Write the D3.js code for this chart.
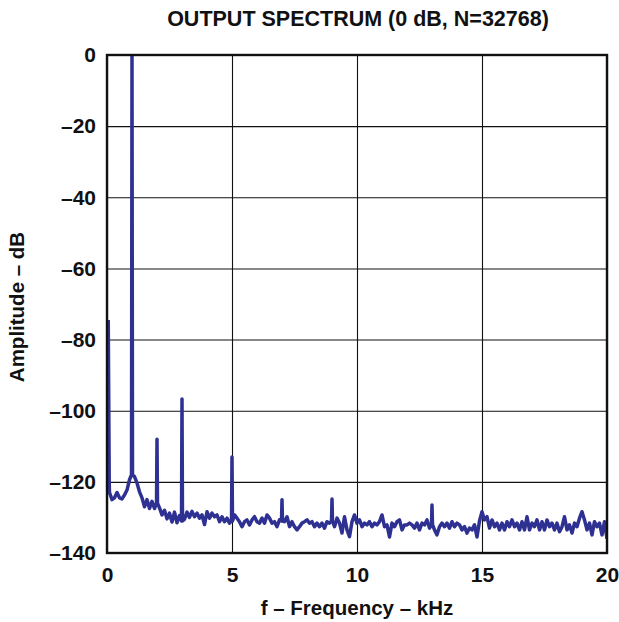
<html>
<head>
<meta charset="utf-8">
<script src="https://d3js.org/d3.v7.min.js"></script>
<style>
    body { margin: 0; background: #fff; }
    svg text { font-family: "Liberation Sans", Arial, Helvetica, sans-serif; font-weight: bold; fill: #111; }
</style>
</head>
<body>
<svg id="chart"></svg>
<script>
    // frequency axis / amplitude axis ticks
    const xTicks = [0, 5, 10, 15, 20];
    const yTicks = [0, -20, -40, -60, -80, -100, -120, -140];

    // noise floor, one value per 0.1 kHz bin starting at 0.1 kHz
    const binStep = 0.1;
    const noiseDb = [
        -123, -125, -124.5, -123, -124.5, -124.8, -123.7, -122.3, -119.4, -118,
        -118.5, -120.3, -122.8, -124.5, -127, -125, -127.5, -125.5, -127.5, -126,
        -127.3, -129.3, -128, -130.4, -128.8, -131.3, -128.5, -131.5, -129.5, -131,
        -130.5, -128.5, -130, -128.3, -129.8, -128.8, -130.2, -129.3, -132, -128.4,
        -130.2, -128.8, -129.8, -129.3, -131.2, -129.8, -131.2, -130.2, -131.6, -131,
        -129.3, -130.2, -131.2, -132.6, -131.2, -130.7, -132.1, -130.7, -129.8, -131.2,
        -131.6, -130.2, -131.6, -129.3, -130.2, -131.6, -131.2, -132.6, -130.7, -131,
        -131.2, -129.8, -132.6, -131.2, -132.6, -133.5, -132.6, -131.6, -131.2, -130.7,
        -131.6, -131.2, -132.6, -131.6, -132.6, -131.6, -133, -131.2, -131.6, -131,
        -132.6, -130.2, -131.6, -134.4, -129.8, -133.5, -135.4, -131.2, -129.3, -131.6,
        -130.7, -132.6, -131.6, -132.1, -131.2, -132.6, -131.6, -132.1, -131.2, -129.3,
        -132.6, -132.1, -135.5, -131.6, -132.6, -131.2, -130.7, -133.5, -132.1, -132.1,
        -131.6, -132.1, -133, -131.6, -133.5, -131.6, -132.1, -130.7, -133, -132,
        -133.5, -134.9, -132.6, -131.6, -132.6, -131.6, -133, -131.2, -132.6, -131.6,
        -132.1, -133.5, -132.6, -134.4, -133, -133.5, -132.1, -135.5, -131, -128.4,
        -130.7, -129.8, -133, -130.7, -132.6, -131.6, -133.5, -131.6, -133.5, -131.2,
        -132.6, -130.7, -132.6, -131.6, -133.5, -131.2, -133.5, -129.8, -133.5, -131.6,
        -132.6, -130.7, -133.5, -131.2, -133.5, -130.7, -132.6, -131.6, -133.5, -131.6,
        -134, -132.6, -129.8, -133.5, -132.1, -134.4, -131.6, -132.6, -130.2, -128.4,
        -130.7, -133.5, -131.6, -134.9, -131.2, -132.6, -131.6, -134.9, -131.2, -136
    ];

    // fundamental, harmonics and spurs (kHz, dB)
    const toneFreq = [1, 2, 3, 5, 7, 9, 13];
    const tonePeak = [0, -108, -96.7, -113, -125, -124.8, -126.5];

    // DC leakage at the very start
    const dcFreq = [0.05, 0.09];
    const dcDb = [-74.5, -121];

    const width = 619, height = 622;
    const margin = {top: 55, right: 12, bottom: 69, left: 107};
    const w = width - margin.left - margin.right;
    const h = height - margin.top - margin.bottom;

    const svg = d3.select('#chart').attr('width', width).attr('height', height);
    const g = svg.append('g').attr('transform', `translate(${margin.left},${margin.top})`);

    const x = d3.scaleLinear().domain([0, 20]).range([0, w]);
    const y = d3.scaleLinear().domain([-140, 0]).range([h, 0]);

    const dash = d => d < 0 ? '\u2013' + Math.abs(d) : String(d);

    // grid
    g.append('g')
        .attr('transform', `translate(0,${h})`)
        .call(d3.axisBottom(x).tickValues(xTicks).tickSize(-h).tickFormat(''))
        .call(a => a.select('.domain').remove())
        .selectAll('line').attr('stroke', '#111').attr('stroke-width', 1.1);
    g.append('g')
        .call(d3.axisLeft(y).tickValues(yTicks).tickSize(-w).tickFormat(''))
        .call(a => a.select('.domain').remove())
        .selectAll('line').attr('stroke', '#111').attr('stroke-width', 1.1);

    // tick labels
    const xa = g.append('g')
        .attr('transform', `translate(0,${h})`)
        .call(d3.axisBottom(x).tickValues(xTicks).tickSize(0).tickPadding(14).tickFormat(d3.format('d')));
    const ya = g.append('g')
        .call(d3.axisLeft(y).tickValues(yTicks).tickSize(0).tickPadding(11).tickFormat(dash));
    [xa, ya].forEach(a => {
        a.select('.domain').remove();
        a.selectAll('text').attr('font-size', 21).attr('fill', '#111')
            .attr('font-family', '"Liberation Sans", Arial, sans-serif').attr('font-weight', 'bold');
    });

    // build the spectrum trace
    let pts = noiseDb.map((v, i) => [(i + 1) * binStep, v]);
    toneFreq.forEach((f, k) => {
        const bin = pts.find(p => Math.abs(p[0] - f) < 1e-6);
        const base = bin ? bin[1] : -130;
        pts = pts.filter(p => Math.abs(p[0] - f) > 1e-6);
        pts.push([f - 0.02, base], [f, tonePeak[k]], [f + 0.02, base]);
    });
    dcFreq.forEach((f, i) => pts.push([f, dcDb[i]]));
    pts.sort((a, b) => a[0] - b[0]);

    svg.append('clipPath').attr('id', 'clip')
        .append('rect').attr('width', w).attr('height', h + 2).attr('y', -1);

    const line = d3.line().x(d => x(d[0])).y(d => y(d[1]));
    g.append('path')
        .datum(pts)
        .attr('clip-path', 'url(#clip)')
        .attr('d', line)
        .attr('fill', 'none')
        .attr('stroke', '#2e3192')
        .attr('stroke-width', 3.5)
        .attr('stroke-linejoin', 'round');

    // frame
    g.append('rect').attr('width', w).attr('height', h)
        .attr('fill', 'none').attr('stroke', '#111').attr('stroke-width', 2.4);

    // titles
    svg.append('text').attr('x', margin.left + w / 2 + 1).attr('y', 26)
        .attr('text-anchor', 'middle').attr('font-size', 21.5)
        .text('OUTPUT SPECTRUM (0 dB, N=32768)');
    svg.append('text').attr('x', margin.left + w / 2).attr('y', 615)
        .attr('text-anchor', 'middle').attr('font-size', 20.5)
        .text('f \u2013 Frequency \u2013 kHz');
    svg.append('text').attr('transform', 'translate(24,307) rotate(-90)')
        .attr('text-anchor', 'middle').attr('font-size', 20.5)
        .text('Amplitude \u2013 dB');
</script>
</body>
</html>
